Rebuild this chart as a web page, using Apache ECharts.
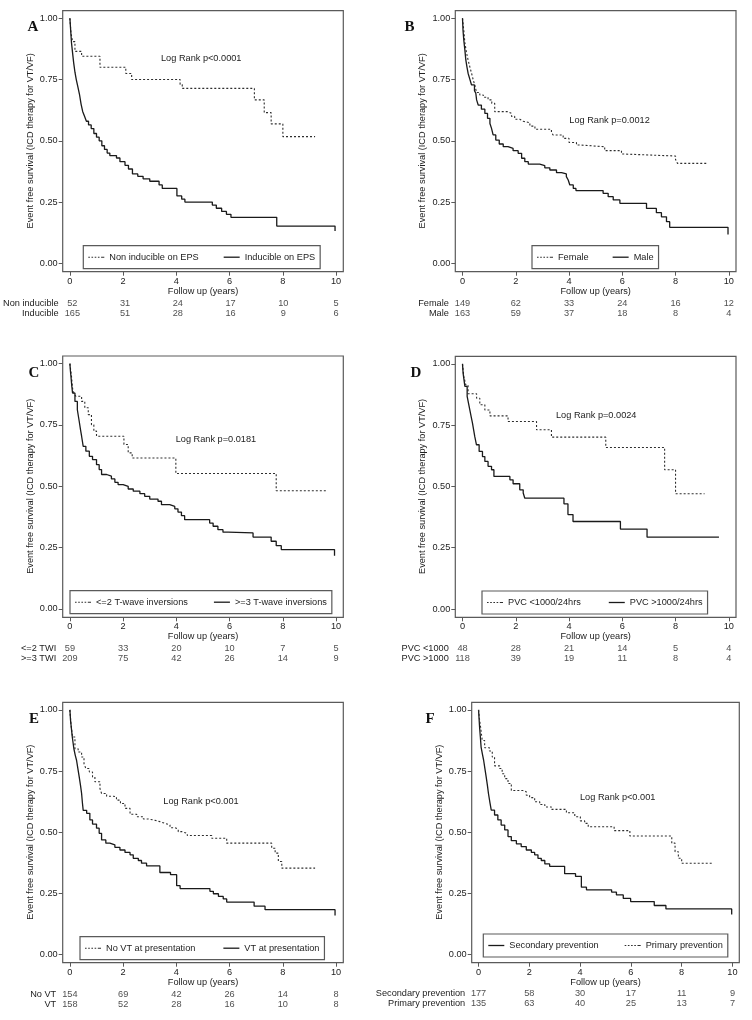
<!DOCTYPE html>
<html>
<head>
<meta charset="utf-8">
<script src="https://cdn.jsdelivr.net/npm/echarts@6/dist/echarts.min.js"></script>
<style>
html,body{margin:0;padding:0;background:#fff;}
#chart{width:752px;height:1020px;}
</style>
</head>
<body>
<div id="chart"></div>
<script>
// ---------- DATA ----------
const timeTicks = [0, 2, 4, 6, 8, 10];
const survTicks = [0, 0.25, 0.5, 0.75, 1];
const yTitle = 'Event free survival (ICD therapy for VT/VF)';
const xTitle = 'Follow up (years)';

// Panel A
const aNonInducible = [[0,1],[0.04,0.94],[0.1,0.905],[0.19,0.865],[0.44,0.845],[1.13,0.8],[2.1,0.775],[2.32,0.75],[4.14,0.73],[4.22,0.714],[6.93,0.667],[7.3,0.615],[7.56,0.569],[8.0,0.517],[9.21,0.517]];
const aInducible = [[0,1],[0.03,0.95],[0.06,0.9],[0.1,0.86],[0.14,0.82],[0.19,0.78],[0.24,0.75],[0.3,0.72],[0.36,0.69],[0.42,0.65],[0.48,0.62],[0.55,0.6],[0.62,0.58],[0.7,0.565],[0.8,0.55],[0.9,0.53],[1.0,0.515],[1.1,0.5],[1.2,0.48],[1.3,0.465],[1.4,0.45],[1.5,0.44],[1.75,0.43],[1.88,0.415],[2.07,0.4],[2.2,0.385],[2.35,0.365],[2.55,0.355],[2.75,0.345],[3.0,0.335],[3.35,0.32],[3.47,0.306],[4.02,0.275],[4.2,0.262],[4.32,0.25],[5.35,0.238],[5.5,0.225],[5.7,0.212],[5.88,0.2],[6.05,0.188],[7.77,0.152],[9.96,0.132]];
const aRiskLabels = ['Non inducible', 'Inducible'];
const aRiskNon = [52, 31, 24, 17, 10, 5];
const aRiskInd = [165, 51, 28, 16, 9, 6];

// Panel B
const bFemale = [[0,1],[0.05,0.95],[0.09,0.9],[0.15,0.86],[0.21,0.83],[0.28,0.8],[0.34,0.776],[0.4,0.75],[0.46,0.728],[0.53,0.697],[0.65,0.687],[0.78,0.678],[0.96,0.667],[1.1,0.653],[1.21,0.619],[1.71,0.612],[1.84,0.6],[1.96,0.588],[2.15,0.58],[2.28,0.574],[2.53,0.56],[2.72,0.547],[3.34,0.535],[3.4,0.524],[3.78,0.51],[4.0,0.493],[4.28,0.483],[4.41,0.476],[5.34,0.46],[5.97,0.446],[6.1,0.438],[8.0,0.424],[8.07,0.408],[9.16,0.408]];
const bMale = [[0,1],[0.02,0.95],[0.05,0.91],[0.09,0.87],[0.125,0.83],[0.17,0.8],[0.21,0.776],[0.28,0.75],[0.34,0.728],[0.45,0.705],[0.5,0.694],[0.53,0.667],[0.59,0.646],[0.71,0.629],[0.84,0.612],[0.94,0.592],[1.03,0.571],[1.09,0.551],[1.15,0.524],[1.25,0.503],[1.38,0.487],[1.53,0.476],[1.71,0.469],[1.9,0.46],[2.09,0.449],[2.22,0.429],[2.34,0.415],[2.47,0.405],[2.9,0.399],[3.09,0.39],[3.28,0.381],[3.53,0.37],[3.72,0.365],[3.9,0.354],[3.97,0.34],[4.03,0.32],[4.16,0.306],[4.26,0.297],[5.28,0.286],[5.47,0.272],[5.66,0.259],[5.91,0.245],[6.91,0.224],[7.28,0.207],[7.47,0.19],[7.66,0.17],[7.78,0.147],[9.97,0.118]];
const bRiskLabels = ['Female', 'Male'];
const bRiskFemale = [149, 62, 33, 24, 16, 12];
const bRiskMale = [163, 59, 37, 18, 8, 4];

// Panel C
const cLe2 = [[0,1],[0.06,0.948],[0.1,0.9],[0.15,0.88],[0.22,0.867],[0.44,0.846],[0.56,0.82],[0.69,0.792],[0.81,0.751],[0.9,0.725],[1.0,0.704],[2.03,0.67],[2.19,0.636],[2.34,0.615],[3.98,0.552],[7.75,0.482],[9.63,0.482]];
const cGe3 = [[0,1],[0.02,0.97],[0.04,0.948],[0.07,0.91],[0.1,0.88],[0.19,0.846],[0.28,0.812],[0.35,0.765],[0.4,0.73],[0.44,0.704],[0.5,0.663],[0.6,0.643],[0.73,0.622],[0.85,0.609],[1.0,0.588],[1.1,0.568],[1.19,0.548],[1.38,0.541],[1.56,0.53],[1.69,0.516],[1.81,0.507],[2.0,0.5],[2.19,0.489],[2.38,0.48],[2.63,0.47],[2.81,0.459],[3.0,0.448],[3.31,0.439],[3.44,0.425],[3.75,0.418],[3.94,0.408],[4.06,0.395],[4.19,0.38],[4.31,0.364],[5.25,0.35],[5.38,0.337],[5.56,0.323],[5.75,0.313],[5.94,0.31],[6.88,0.293],[7.56,0.276],[7.75,0.258],[7.94,0.242],[9.94,0.217]];
const cRiskLabels = ['<=2 TWI', '>=3 TWI'];
const cRiskLe2 = [59, 33, 20, 10, 7, 5];
const cRiskGe3 = [209, 75, 42, 26, 14, 9];

// Panel D
const dLt1000 = [[0,1],[0.05,0.948],[0.125,0.914],[0.21,0.878],[0.53,0.86],[0.65,0.833],[0.84,0.812],[1.03,0.788],[1.71,0.765],[2.78,0.731],[3.34,0.701],[5.38,0.659],[7.59,0.568],[8.0,0.47],[9.09,0.47]];
const dGt1000 = [[0,1],[0.025,0.96],[0.09,0.908],[0.175,0.867],[0.225,0.84],[0.275,0.812],[0.325,0.785],[0.375,0.758],[0.42,0.73],[0.46,0.704],[0.525,0.67],[0.625,0.643],[0.75,0.622],[0.84,0.602],[0.96,0.582],[1.09,0.568],[1.18,0.541],[1.78,0.527],[1.9,0.511],[2.15,0.486],[2.28,0.473],[2.34,0.452],[3.81,0.429],[3.96,0.385],[4.15,0.357],[5.93,0.326],[6.93,0.293],[9.63,0.293]];
const dRiskLabels = ['PVC <1000', 'PVC >1000'];
const dRiskLt = [48, 28, 21, 14, 5, 4];
const dRiskGt = [118, 39, 19, 11, 8, 4];

// Panel E
const eNoVT = [[0,1],[0.04,0.943],[0.1,0.889],[0.19,0.841],[0.31,0.828],[0.44,0.807],[0.53,0.78],[0.6,0.76],[0.73,0.746],[0.85,0.726],[0.94,0.706],[1.13,0.678],[1.19,0.658],[1.38,0.647],[1.63,0.645],[1.75,0.631],[1.9,0.617],[2.07,0.597],[2.26,0.573],[2.51,0.563],[2.76,0.554],[2.94,0.547],[3.26,0.543],[3.38,0.536],[3.57,0.529],[3.76,0.518],[3.95,0.512],[4.07,0.502],[4.2,0.495],[4.41,0.486],[5.33,0.475],[5.89,0.455],[7.58,0.434],[7.71,0.414],[7.83,0.38],[7.96,0.353],[9.21,0.353]];
const eVT = [[0,1],[0.025,0.957],[0.06,0.92],[0.09,0.889],[0.15,0.841],[0.2,0.815],[0.25,0.794],[0.3,0.76],[0.35,0.726],[0.4,0.69],[0.44,0.658],[0.47,0.62],[0.5,0.589],[0.63,0.577],[0.75,0.55],[0.85,0.533],[1.0,0.516],[1.1,0.495],[1.19,0.468],[1.35,0.455],[1.5,0.448],[1.69,0.438],[1.88,0.427],[2.07,0.417],[2.26,0.407],[2.38,0.393],[2.57,0.384],[2.69,0.373],[2.88,0.362],[3.38,0.335],[3.78,0.326],[4.01,0.281],[4.14,0.269],[5.26,0.258],[5.39,0.248],[5.58,0.237],[5.76,0.227],[5.89,0.214],[6.92,0.197],[7.33,0.183],[9.96,0.159]];
const eRiskLabels = ['No VT', 'VT'];
const eRiskNoVT = [154, 69, 42, 26, 14, 8];
const eRiskVT = [158, 52, 28, 16, 10, 8];

// Panel F
const fSecondary = [[0,1],[0.04,0.93],[0.07,0.89],[0.1,0.848],[0.15,0.82],[0.2,0.794],[0.25,0.76],[0.3,0.726],[0.35,0.69],[0.39,0.658],[0.45,0.62],[0.5,0.59],[0.63,0.57],[0.76,0.55],[0.89,0.529],[1.03,0.509],[1.16,0.482],[1.29,0.465],[1.49,0.452],[1.68,0.441],[1.88,0.427],[2.08,0.417],[2.21,0.407],[2.34,0.393],[2.47,0.384],[2.61,0.37],[2.8,0.36],[3.39,0.33],[3.82,0.319],[4.05,0.275],[4.25,0.264],[5.24,0.255],[5.43,0.243],[5.7,0.229],[5.99,0.216],[6.92,0.2],[7.38,0.186],[9.97,0.163]];
const fPrimary = [[0,1],[0.04,0.96],[0.08,0.93],[0.145,0.875],[0.24,0.845],[0.43,0.832],[0.54,0.807],[0.63,0.771],[0.83,0.76],[0.93,0.739],[1.03,0.719],[1.16,0.699],[1.29,0.67],[1.75,0.665],[1.88,0.651],[2.01,0.641],[2.21,0.624],[2.41,0.613],[2.61,0.603],[2.87,0.593],[3.46,0.579],[3.79,0.563],[4.01,0.546],[4.18,0.536],[4.32,0.522],[5.34,0.506],[5.96,0.484],[7.61,0.455],[7.74,0.42],[7.87,0.393],[8.0,0.373],[9.25,0.373]];
const fRiskLabels = ['Secondary prevention', 'Primary prevention'];
const fRiskSec = [177, 58, 30, 17, 11, 9];
const fRiskPri = [135, 63, 40, 25, 13, 7];

// ---------- PANEL DEFINITIONS (layout) ----------
const panels = [
  { letter:'A', logRank:'Log Rank p<0.0001',
    series:[{name:'Non inducible on EPS', data:aNonInducible, dotted:true},{name:'Inducible on EPS', data:aInducible, dotted:false}],
    riskLabels:aRiskLabels, risk:[aRiskNon, aRiskInd],
    frame:{left:62.7, top:10.7, width:280.6, height:261}, riskTop:298.3,
    legend:{left:83.3, top:245.7, gap:25}, lr:[161,58], lt:[33,27] },
  { letter:'B', logRank:'Log Rank p=0.0012',
    series:[{name:'Female', data:bFemale, dotted:true},{name:'Male', data:bMale, dotted:false}],
    riskLabels:bRiskLabels, risk:[bRiskFemale, bRiskMale],
    frame:{left:455.3, top:10.7, width:280.7, height:261}, riskTop:298.3,
    legend:{left:532, top:245.7, gap:24}, lr:[569.3,120], lt:[409.5,26.7] },
  { letter:'C', logRank:'Log Rank p=0.0181',
    series:[{name:'<=2 T-wave inversions', data:cLe2, dotted:true},{name:'>=3 T-wave inversions', data:cGe3, dotted:false}],
    riskLabels:cRiskLabels, risk:[cRiskLe2, cRiskGe3],
    frame:{left:62.7, top:356, width:280.6, height:261.3}, riskTop:643.3,
    legend:{left:70, top:590.7, gap:26}, lr:[175.7,439.3], lt:[34,373.3] },
  { letter:'D', logRank:'Log Rank p=0.0024',
    series:[{name:'PVC <1000/24hrs', data:dLt1000, dotted:true},{name:'PVC >1000/24hrs', data:dGt1000, dotted:false}],
    riskLabels:dRiskLabels, risk:[dRiskLt, dRiskGt],
    frame:{left:455.3, top:356.3, width:280.7, height:261}, riskTop:643.8,
    legend:{left:482, top:591, gap:28}, lr:[556,415], lt:[416,373.3] },
  { letter:'E', logRank:'Log Rank p<0.001',
    series:[{name:'No VT at presentation', data:eNoVT, dotted:true},{name:'VT at presentation', data:eVT, dotted:false}],
    riskLabels:eRiskLabels, risk:[eRiskNoVT, eRiskVT],
    frame:{left:62.7, top:702.3, width:280.6, height:260.4}, riskTop:989,
    legend:{left:80, top:936.7, gap:28}, lr:[163.3,801.7], lt:[34,719.3] },
  { letter:'F', logRank:'Log Rank p<0.001',
    series:[{name:'Secondary prevention', data:fSecondary, dotted:false},{name:'Primary prevention', data:fPrimary, dotted:true}],
    riskLabels:fRiskLabels, risk:[fRiskSec, fRiskPri],
    frame:{left:471.7, top:702.3, width:267.6, height:260.4}, riskTop:988.3,
    legend:{left:483.3, top:934, gap:26}, lr:[580,797.7], lt:[430,719.3] }
];

// ---------- BUILD OPTION ----------
const FONT = 'Liberation Sans, Arial, sans-serif';
const FS = 9.2;
const TXT = '#222';
const FRAME = '#5a5a5a';
const LINE = '#1a1a1a';
const DOT = '#2e2e2e';
// plot-region padding (in data units) between the data range and the frame
const PADX = 0.27, PADY_BOT = 0.034, PADY_TOP = 0.031;

const ICON_SOLID = 'path://M0,0h16v1.3h-16z';
const ICON_DOT = 'path://M0,0h1.6v1.1h-1.6zM3.2,0h1.6v1.1h-1.6zM6.4,0h1.6v1.1h-1.6zM9.6,0h1.6v1.1h-1.6zM12.8,0h1.6v1.1h-1.6zM14.4,0h1.6v1.1h-1.6z';

const grids = [], xAxes = [], yAxes = [], series = [], legends = [], graphics = [];

panels.forEach((p) => {
  const f = p.frame;
  const kx = f.width / (10 + 2 * PADX);            // px per year
  const ky = f.height / (1 + PADY_BOT + PADY_TOP); // px per unit survival
  const dataLeft = f.left + PADX * kx;
  const dataWidth = 10 * kx;
  const dataTop = f.top + PADY_TOP * ky;
  const dataHeight = ky;
  const xOff = PADY_BOT * ky;
  const yOff = PADX * kx;

  const gMain = grids.length;
  grids.push({ left:dataLeft, top:dataTop, width:dataWidth, height:dataHeight, show:false, containLabel:false });
  xAxes.push({ gridIndex:gMain, type:'value', min:0, max:10, interval:2, position:'bottom', offset:xOff,
    axisLine:{show:false, onZero:false}, splitLine:{show:false},
    axisTick:{show:true, inside:false, length:4, lineStyle:{color:FRAME, width:1}},
    axisLabel:{show:true, margin:5, fontFamily:FONT, fontSize:FS, color:TXT},
    name:xTitle, nameLocation:'middle', nameGap:13.5,
    nameTextStyle:{fontFamily:FONT, fontSize:FS, color:TXT} });
  yAxes.push({ gridIndex:gMain, type:'value', min:0, max:1, interval:0.25, position:'left', offset:yOff,
    axisLine:{show:false, onZero:false}, splitLine:{show:false},
    axisTick:{show:true, inside:false, length:4, lineStyle:{color:FRAME, width:1}},
    axisLabel:{show:true, margin:5, fontFamily:FONT, fontSize:FS, color:TXT,
      formatter:(v) => v.toFixed(2)},
    name:yTitle, nameLocation:'middle', nameGap:28, nameRotate:90,
    nameTextStyle:{fontFamily:FONT, fontSize:FS, color:TXT} });

  p.series.forEach(s => {
    series.push({ type:'line', name:s.name, xAxisIndex:gMain, yAxisIndex:gMain, data:s.data,
      step:'end', symbol:'none', showSymbol:false, silent:true, clip:false,
      lineStyle: s.dotted ? {color:DOT, width:1.1, type:[2,2]} : {color:LINE, width:1.3, type:'solid'},
      itemStyle:{color: s.dotted ? DOT : LINE} });
  });

  // risk table grid (same x mapping as the plot)
  const gRisk = grids.length;
  grids.push({ left:dataLeft, top:p.riskTop, width:dataWidth, height:20, show:false });
  xAxes.push({ gridIndex:gRisk, type:'value', min:0, max:10, show:false });
  yAxes.push({ gridIndex:gRisk, type:'category', data:p.riskLabels, inverse:true,
    axisLine:{show:false}, axisTick:{show:false}, splitLine:{show:false},
    axisLabel:{interval:0, margin:yOff + 6.5, fontFamily:FONT, fontSize:FS, color:TXT} });
  p.risk.forEach((row, r) => {
    series.push({ type:'scatter', name:'risk_'+p.letter+'_'+r, xAxisIndex:gRisk, yAxisIndex:gRisk,
      silent:true, symbolSize:1, itemStyle:{color:'rgba(0,0,0,0)'}, clip:false,
      data: row.map((n, k) => [timeTicks[k], p.riskLabels[r], n]),
      label:{show:true, position:'inside', formatter:(q) => String(q.value[2]),
        fontFamily:FONT, fontSize:FS, color:TXT} });
  });

  legends.push({ data:p.series.map(s => ({ name:s.name, icon: s.dotted ? ICON_DOT : ICON_SOLID })),
    left:p.legend.left, top:p.legend.top,
    orient:'horizontal', itemGap:p.legend.gap, itemWidth:16, itemHeight:10, symbolKeepAspect:true,
    padding:[6,5,6,5], borderColor:FRAME, borderWidth:1.2, backgroundColor:'#fff',
    selectedMode:false,
    textStyle:{fontFamily:FONT, fontSize:FS, color:TXT, lineHeight:11} });

  // plot frame
  graphics.push({ type:'rect', silent:true, z:5,
    shape:{ x:f.left, y:f.top, width:f.width, height:f.height },
    style:{ fill:'none', stroke:FRAME, lineWidth:1.2 } });
  graphics.push({ type:'text', x:p.lt[0], y:p.lt[1], silent:true,
    style:{ text:p.letter, font:'bold 15px "Liberation Serif", "Times New Roman", serif', fill:'#111',
      align:'center', verticalAlign:'middle' } });
  graphics.push({ type:'text', x:p.lr[0], y:p.lr[1], silent:true,
    style:{ text:p.logRank, font:FS+'px '+FONT, fill:TXT, align:'left', verticalAlign:'middle' } });
});

const chart = echarts.init(document.getElementById('chart'), null, {renderer:'canvas'});
chart.setOption({
  animation:false,
  backgroundColor:'#fff',
  grid:grids, xAxis:xAxes, yAxis:yAxes, series:series, legend:legends, graphic:graphics,
  tooltip:{show:false}
});
</script>
</body>
</html>
